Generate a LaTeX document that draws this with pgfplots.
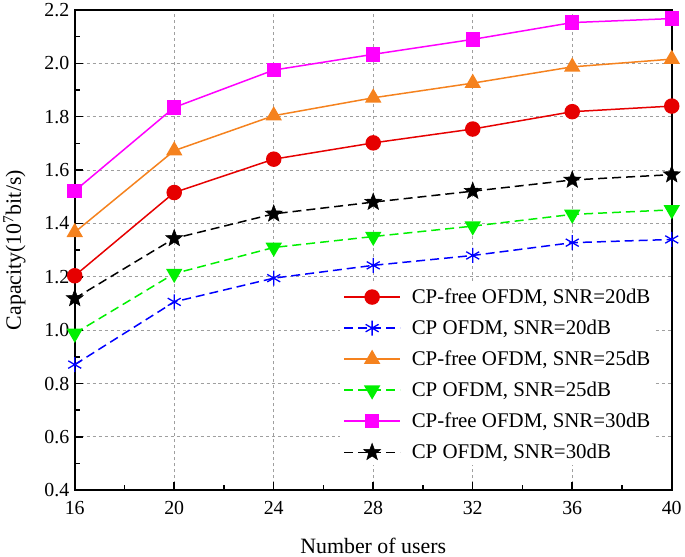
\documentclass[border=0pt]{standalone}
\usepackage{pgfplots}
\pgfplotsset{compat=1.18}
\usepackage{fontspec}
\setmainfont{Liberation Serif}
\definecolor{cred}{RGB}{230,0,0}
\definecolor{cblue}{RGB}{0,0,255}
\definecolor{corange}{RGB}{245,130,30}
\definecolor{cgreen}{RGB}{0,240,0}
\definecolor{cmag}{RGB}{255,0,255}
\pgfdeclareplotmark{fstar}{%
  \pgfpathmoveto{\pgfpointpolar{90}{\pgfplotmarksize}}%
  \pgfpathlineto{\pgfpointpolar{126}{0.42\pgfplotmarksize}}%
  \pgfpathlineto{\pgfpointpolar{162}{\pgfplotmarksize}}%
  \pgfpathlineto{\pgfpointpolar{198}{0.42\pgfplotmarksize}}%
  \pgfpathlineto{\pgfpointpolar{234}{\pgfplotmarksize}}%
  \pgfpathlineto{\pgfpointpolar{270}{0.42\pgfplotmarksize}}%
  \pgfpathlineto{\pgfpointpolar{306}{\pgfplotmarksize}}%
  \pgfpathlineto{\pgfpointpolar{342}{0.42\pgfplotmarksize}}%
  \pgfpathlineto{\pgfpointpolar{18}{\pgfplotmarksize}}%
  \pgfpathlineto{\pgfpointpolar{54}{0.42\pgfplotmarksize}}%
  \pgfpathclose\pgfusepathqfillstroke}
\begin{document}
\begin{tikzpicture}
\begin{axis}[
  scale only axis,
  width=598bp, height=481bp,
  xmin=16, xmax=40, ymin=0.4, ymax=2.2,
  xtick={16,20,...,40},
  ytick={0.4,0.6,...,2.21},
  minor x tick num=1, minor y tick num=1,
  yticklabel style={xshift=-2bp, /pgf/number format/.cd, fixed, fixed zerofill, precision=1},
  /pgf/number format/assume math mode=true,
  tick label style={font=\fontsize{20}{24}\selectfont},
  label style={font=\fontsize{22}{26}\selectfont},
  xtick pos=bottom, ytick pos=left,
  tick align=inside,
  major tick length=8bp, minor tick length=5bp,
  every tick/.style={black, line width=1.5bp},
  axis line style={line width=2bp},
  grid=major,
  major grid style={gray!75, dash pattern=on 3bp off 3bp, line width=0.8bp},
  xlabel={Number of users},
  ylabel={Capacity(10\textsuperscript{7}bit/s)},
  xlabel style={yshift=-16bp},
  ylabel style={yshift=12bp},
  xticklabel style={yshift=-8bp},
  legend style={at={(0.973,0.43)}, anchor=north east, draw=none, fill=white,
    font=\fontsize{21}{25}\selectfont, row sep=11bp, inner sep=3bp,
    /tikz/every odd column/.append style={column sep=9bp}},
  legend cell align=left,
  legend image code/.code={\draw[mark repeat=2,mark phase=2] plot coordinates {(0bp,0bp) (28bp,0bp) (56bp,0bp)};},
  every axis plot/.append style={line width=1.5bp},
  dashstyle/.style={dash pattern=on 9bp off 5bp},
]
\addplot[cred, mark=*, mark size=7bp, mark options={solid, fill=cred}] coordinates {
(16,1.204) (20,1.516) (24,1.641) (28,1.702) (32,1.754) (36,1.819) (40,1.840)};
\addlegendentry{CP-free OFDM, SNR=20dB}
\addplot[cblue, dashstyle, mark=asterisk, mark size=7.5bp, mark options={solid, line width=1.3bp}] coordinates {
(16,0.871) (20,1.106) (24,1.195) (28,1.243) (32,1.280) (36,1.328) (40,1.340)};
\addlegendentry{CP OFDM, SNR=20dB}
\addplot[corange, mark=triangle*, mark size=8bp, mark options={solid, fill=corange}] coordinates {
(16,1.367) (20,1.673) (24,1.804) (28,1.871) (32,1.926) (36,1.987) (40,2.016)};
\addlegendentry{CP-free OFDM, SNR=25dB}
\addplot[cgreen, dashstyle, mark=triangle*, mark size=8bp, mark options={solid, fill=cgreen, rotate=180}] coordinates {
(16,0.988) (20,1.212) (24,1.310) (28,1.351) (32,1.390) (36,1.434) (40,1.451)};
\addlegendentry{CP OFDM, SNR=25dB}
\addplot[cmag, mark=square*, mark size=6.5bp, mark options={solid, fill=cmag}] coordinates {
(16,1.522) (20,1.835) (24,1.975) (28,2.034) (32,2.090) (36,2.153) (40,2.168)};
\addlegendentry{CP-free OFDM, SNR=30dB}
\addplot[black, dashstyle, mark=fstar, mark size=9bp, mark options={solid, fill=black, line width=0.5bp}] coordinates {
(16,1.119) (20,1.344) (24,1.436) (28,1.480) (32,1.521) (36,1.563) (40,1.583)};
\addlegendentry{CP OFDM, SNR=30dB}
\end{axis}
\end{tikzpicture}
\end{document}
